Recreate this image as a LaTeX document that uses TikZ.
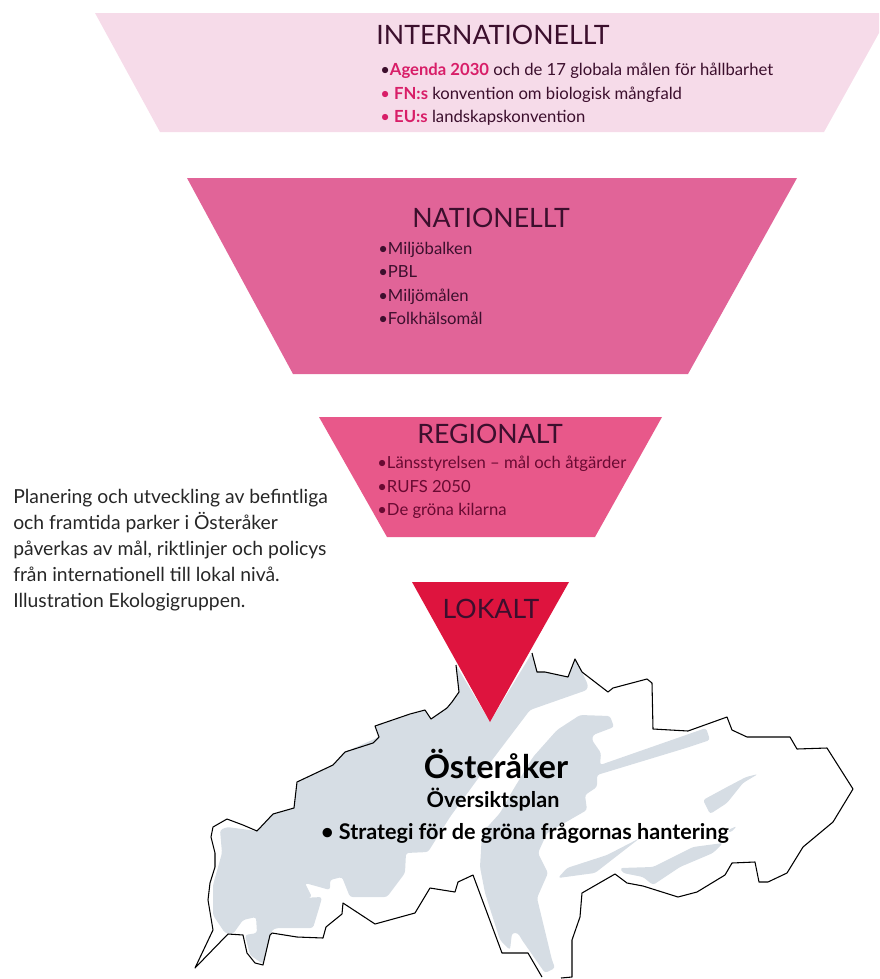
\documentclass[tikz,border=0pt]{standalone}
\usepackage{fontspec}
\setmainfont{Lato}
\definecolor{intlpink}{RGB}{246,219,233}
\definecolor{natpink}{RGB}{225,100,152}
\definecolor{regpink}{RGB}{232,88,138}
\definecolor{lokalred}{RGB}{222,20,62}
\definecolor{landgrey}{RGB}{214,221,228}
\definecolor{accentpink}{RGB}{216,30,104}
\definecolor{plumtext}{RGB}{60,15,45}
\definecolor{wine}{RGB}{105,10,50}
\begin{document}
\begin{tikzpicture}[x=0.75pt,y=0.75pt,yscale=-1,xscale=1,
  heading/.style={anchor=center,inner sep=0.75pt,text=plumtext,font=\fontsize{20}{20}\selectfont},
  item/.style={anchor=base west,inner sep=0.75pt,text=plumtext,font=\fontsize{12.5}{13}\selectfont},
  para/.style={anchor=base west,inner sep=0.75pt,text=black!85,font=\fontsize{14.5}{15}\selectfont},
  mapbold/.style={anchor=base,inner sep=0.75pt,font=\fontsize{16.2}{17}\selectfont\bfseries},
  land/.style={fill=landgrey,draw=none,rounded corners=2pt}]
\useasboundingbox (0,0) rectangle (879,979);

%Funnel
\fill [intlpink] (95,13) -- (879,13) -- (879,33) -- (824,132) -- (160,132) -- cycle ;
\fill [natpink] (187,178) -- (797,178) -- (688,374) -- (293,374) -- cycle ;
\fill [regpink] (319,417) -- (662,417) -- (595,537) -- (387,537) -- cycle ;

%Land
\path [land] (456,665) -- (459,692) -- (447,708) -- (431,719) -- (425,710) -- (375,726) -- (379,737) -- (345,752) -- (333,765) -- (297,782) -- (294,808) -- (273,814) -- (257,831) -- (227,827) -- (220,830) -- (222,853) -- (213,885) -- (213,915) -- (225,933) -- (233,934) -- (243,920) -- (256,917) -- (257,933) -- (245,935) -- (250,955) -- (263,964) -- (269,940) -- (272,930) -- (277,928) -- (313,928) -- (320,905) -- (322,897) -- (302,898) -- (312,897) -- (305,883) -- (330,890) -- (330,880) -- (342,877) -- (350,897) -- (387,897) -- (405,873) -- (406,853) -- (428,852) -- (450,817) -- (477,780) -- (530,710) -- (587,690) -- (588,685) -- (582,672) -- (575,659) -- (568,677) -- (545,672) -- (537,672) -- (532,653) -- (490,722) -- cycle ;
\path [land] (557,730) -- (580,715) -- (610,716) -- (614,727) -- (593,735) -- (592,740) -- (601,753) -- (600,765) -- (706,728) -- (710,740) -- (686,748) -- (597,775) -- (597,787) -- (585,795) -- (587,810) -- (547,833) -- (538,853) -- (548,873) -- (537,898) -- (552,960) -- (555,968) -- (545,973) -- (522,940) -- (518,933) -- (512,933) -- (510,950) -- (500,940) -- (485,893) -- (480,867) -- (482,833) -- (500,813) -- (513,790) -- (533,757) -- cycle ;
\path [land] (758,774) -- (746,777) -- (727,787) -- (703,800) -- (710,814) -- (727,803) -- (743,783) -- cycle ;
\path [land] (620,868) -- (653,867) -- (693,847) -- (723,843) -- (713,853) -- (680,867) -- (653,885) -- (643,877) -- (623,873) -- cycle ;
\path [land] (558,878) -- (567,868) -- (607,855) -- (640,838) -- (595,873) -- (580,875) -- cycle ;
\path [land] (728,830) -- (737,826) -- (730,833) -- cycle ;

%Outline
\draw [line width=0.8pt,line join=round] (456,665) -- (459,692) -- (452,702) -- (447,708) -- (431,719) -- (425,710) -- (410,714) -- (375,726) -- (379,737) -- (373,743) -- (345,752) -- (333,765) -- (297,782) -- (294,808) -- (273,814) -- (257,831) -- (243,825) -- (227,819) -- (213,827) -- (211,837) -- (215,853) -- (215,867) -- (210,883) -- (208,900) -- (213,930) -- (195,968) -- (228,934) -- (243,935) -- (247,953) -- (255,963) -- (263,965) -- (270,935) -- (272,933) -- (297,937) -- (323,938) -- (326,927) -- (342,914) -- (343,903) -- (375,924) -- (415,913) -- (430,888) -- (455,892) -- (458,882) -- (473,875) -- (502,953) -- (528,953) -- (542,977) ;
\draw [line width=0.8pt,line join=round] (561,978) -- (572,977) -- (572,940) -- (580,917) -- (582,893) -- (615,874) -- (627,883) -- (643,886) -- (678,897) -- (697,892) -- (725,875) -- (732,863) -- (755,862) -- (759,882) -- (768,882) -- (787,873) -- (803,847) -- (833,822) -- (853,789) -- (827,748) -- (797,749) -- (790,737) -- (747,737) -- (732,730) -- (727,717) -- (688,731) -- (653,729) -- (652,683) -- (647,679) -- (613,688) -- (608,692) -- (582,672) -- (575,659) -- (568,677) -- (545,672) -- (537,672) -- (532,653) ;

%Triangle on top of the map
\fill [lokalred] (412,582) -- (569,582) -- (490,722) -- cycle ;

% Text Node
\node [heading] (intlhead) at (493,35) {INTERNATIONELLT};
\node [item] (intla) at (379,75) {•\textcolor{accentpink}{\textbf{Agenda 2030}} och de 17 globala målen för hållbarhet};
\node [item] (intlb) at (379,99) {\textcolor{accentpink}{• \textbf{FN:s}} konvention om biologisk mångfald};
\node [item] (intlc) at (379,122) {\textcolor{accentpink}{• \textbf{EU:s}} landskapskonvention};
% Text Node
\node [heading] (nathead) at (491,218) {NATIONELLT};
\node [item] (nata) at (377,254) {•Miljöbalken};
\node [item] (natb) at (377,277) {•PBL};
\node [item] (natc) at (377,301) {•Miljömålen};
\node [item] (natd) at (377,324) {•Folkhälsomål};
% Text Node
\node [heading] (reghead) at (490,434) {REGIONALT};
\node [item,text=wine] (rega) at (376,468) {•Länsstyrelsen – mål och åtgärder};
\node [item,text=wine] (regb) at (376,492) {•RUFS 2050};
\node [item,text=wine] (regc) at (376,515) {•De gröna kilarna};
% Text Node
\node [heading] (lokhead) at (491,609) {LOKALT};
% Text Node
\node [para] (infoa) at (12,503) {Planering och utveckling av befintliga};
\node [para] (infob) at (12,529) {och framtida parker i Österåker};
\node [para] (infoc) at (12,555) {påverkas av mål,  riktlinjer och policys};
\node [para] (infod) at (12,581) {från internationell till lokal nivå.};
\node [para] (infoe) at (12,607) {Illustration Ekologigruppen.};
% Text Node
\node [mapbold,font=\fontsize{24.4}{25}\selectfont\bfseries] (maphead) at (496,778) {Österåker};
\node [mapbold] (mapsub) at (493,807) {Översiktsplan};
\node [mapbold] (mapitem) at (525,839) {• Strategi för de gröna frågornas hantering};
\end{tikzpicture}
\end{document}
